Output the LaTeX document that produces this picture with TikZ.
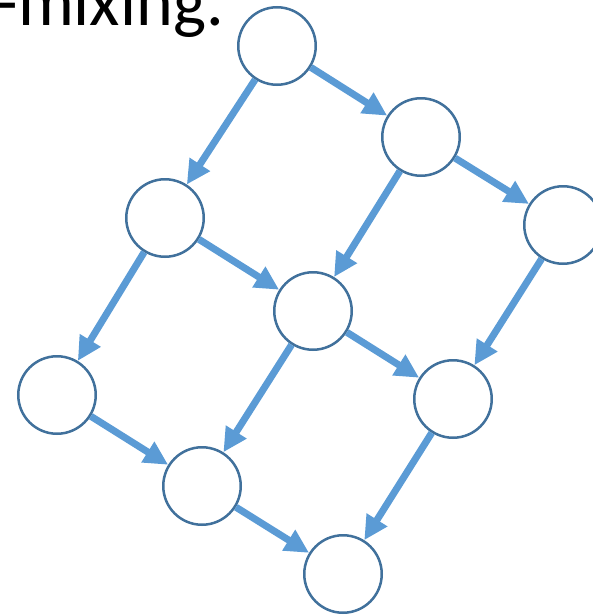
\documentclass[tikz,border=0pt]{standalone}
\usepackage{fontspec}
\setmainfont{Carlito}
\usetikzlibrary{arrows.meta}
\definecolor{arrowblue}{HTML}{5B9BD5}
\definecolor{ringblue}{HTML}{41719C}
\begin{document}
\begin{tikzpicture}[x=1pt,y=-1pt,
  cell/.style={circle,draw=ringblue,line width=2.5pt,fill=white,minimum size=77.5pt,inner sep=0pt},
  flow/.style={draw=arrowblue,line width=7pt,-{Triangle[length=24pt,width=23pt]}}]
\useasboundingbox (0,0) rectangle (593,616);
\node[anchor=base east,inner sep=0pt,font=\fontsize{70}{84}\selectfont] (txt) at (224,25) {-mixing.};
\node[cell] (t) at (277,46) {};
\node[cell] (a) at (421,137) {};
\node[cell] (b) at (165,218) {};
\node[cell] (c) at (563,225) {};
\node[cell] (d) at (313,311) {};
\node[cell] (e) at (57,395) {};
\node[cell] (f) at (453,399) {};
\node[cell] (g) at (202,486) {};
\node[cell] (h) at (343,574) {};
\draw[flow] (t) -- (a);
\draw[flow] (t) -- (b);
\draw[flow] (a) -- (c);
\draw[flow] (a) -- (d);
\draw[flow] (b) -- (d);
\draw[flow] (b) -- (e);
\draw[flow] (c) -- (f);
\draw[flow] (d) -- (f);
\draw[flow] (d) -- (g);
\draw[flow] (e) -- (g);
\draw[flow] (f) -- (h);
\draw[flow] (g) -- (h);
\end{tikzpicture}
\end{document}
